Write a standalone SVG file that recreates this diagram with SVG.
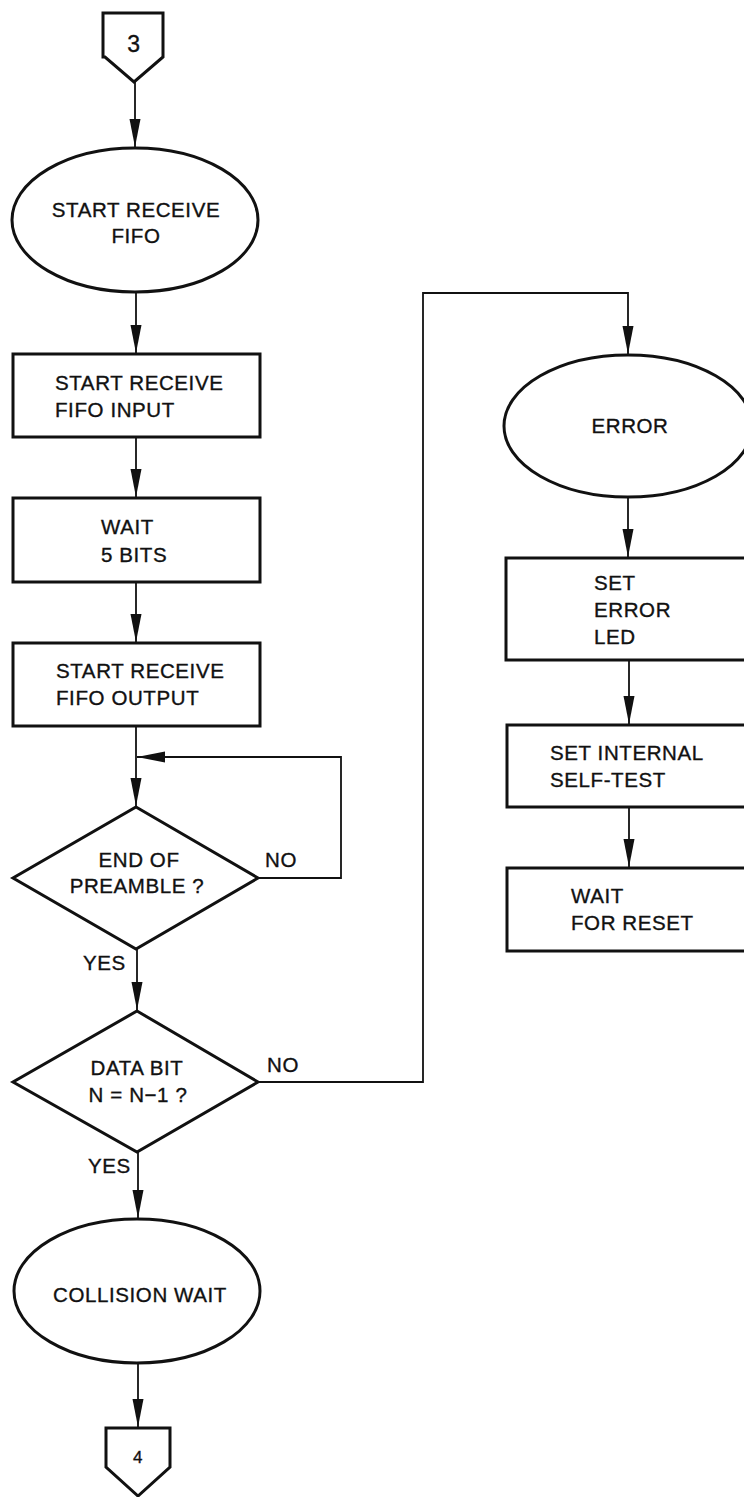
<svg xmlns="http://www.w3.org/2000/svg" width="744" height="1497" viewBox="0 0 744 1497">
<defs>
<style>
.shape{fill:#fff;stroke:#111;stroke-width:3;stroke-linejoin:miter}
.conn{fill:none;stroke:#111;stroke-width:1.8}
.t{font-family:"Liberation Sans",Arial,sans-serif;font-size:20.5px;letter-spacing:0.6px;fill:#111;stroke:#111;stroke-width:0.35}
.c{text-anchor:middle}
</style>
<marker id="ah" markerUnits="userSpaceOnUse" markerWidth="30" markerHeight="12" refX="28" refY="5.5" orient="auto">
<path d="M0,0 L28,5.5 L0,11 z" fill="#111"/>
</marker>
</defs>
<rect width="744" height="1497" fill="#fff"/>
<g id="connectors">
<line class="conn" x1="135" y1="82" x2="135" y2="147" marker-end="url(#ah)"/>
<line class="conn" x1="136" y1="292" x2="136" y2="353" marker-end="url(#ah)"/>
<line class="conn" x1="136" y1="437" x2="136" y2="497" marker-end="url(#ah)"/>
<line class="conn" x1="136" y1="582" x2="136" y2="642" marker-end="url(#ah)"/>
<line class="conn" x1="136" y1="726" x2="136" y2="806" marker-end="url(#ah)"/>
<polyline class="conn" points="258,878 341,878 341,757 137,757" marker-end="url(#ah)"/>
<line class="conn" x1="137" y1="949" x2="137" y2="1010" marker-end="url(#ah)"/>
<polyline class="conn" points="258,1082 423,1082 423,293 628,293 628,354" marker-end="url(#ah)"/>
<line class="conn" x1="628" y1="497" x2="628" y2="557" marker-end="url(#ah)"/>
<line class="conn" x1="629" y1="660" x2="629" y2="724" marker-end="url(#ah)"/>
<line class="conn" x1="629" y1="807" x2="629" y2="867" marker-end="url(#ah)"/>
<line class="conn" x1="138" y1="1152" x2="138" y2="1218" marker-end="url(#ah)"/>
<line class="conn" x1="138" y1="1363" x2="138" y2="1427" marker-end="url(#ah)"/>
<text class="t" x="265" y="867">NO</text>
<text class="t" x="83" y="970">YES</text>
<text class="t" x="267" y="1072">NO</text>
<text class="t" x="88" y="1173">YES</text>
</g>
<g id="n_conn3">
<polygon class="shape" points="103,13 163,13 163,57 134,82 105,57 103,57"/>
<text class="t c" x="134" y="52" style="font-size:23px">3</text>
</g>
<g id="n_start">
<ellipse class="shape" cx="135" cy="220" rx="123" ry="72"/>
<text class="t c" x="136" y="217">START RECEIVE</text>
<text class="t c" x="136" y="243">FIFO</text>
</g>
<g id="n_input">
<rect class="shape" x="13" y="354" width="247" height="83"/>
<text class="t" x="55" y="390">START RECEIVE</text>
<text class="t" x="55" y="417">FIFO INPUT</text>
</g>
<g id="n_wait5">
<rect class="shape" x="13" y="498" width="247" height="84"/>
<text class="t" x="101" y="534">WAIT</text>
<text class="t" x="101" y="562">5 BITS</text>
</g>
<g id="n_output">
<rect class="shape" x="13" y="643" width="247" height="83"/>
<text class="t" x="56" y="678">START RECEIVE</text>
<text class="t" x="56" y="705">FIFO OUTPUT</text>
</g>
<g id="n_preamble">
<polygon class="shape" points="136,807 258,878 136,949 13,878"/>
<text class="t c" x="139" y="867">END OF</text>
<text class="t c" x="137" y="893">PREAMBLE ?</text>
</g>
<g id="n_databit">
<polygon class="shape" points="137,1011 258,1082 137,1152 13,1082"/>
<text class="t c" x="137" y="1075">DATA BIT</text>
<text class="t c" x="138" y="1102">N = N−1 ?</text>
</g>
<g id="n_collision">
<ellipse class="shape" cx="137" cy="1291" rx="123" ry="72"/>
<text class="t c" x="140" y="1302">COLLISION WAIT</text>
</g>
<g id="n_conn4">
<polygon class="shape" points="106,1428 170,1428 170,1467 138,1496 106,1467"/>
<text class="t c" x="138" y="1463" style="font-size:17px">4</text>
</g>
<g id="n_error">
<ellipse class="shape" cx="628" cy="426" rx="124" ry="71"/>
<text class="t c" x="630" y="433">ERROR</text>
</g>
<g id="n_setled">
<rect class="shape" x="506" y="558" width="250" height="102"/>
<text class="t" x="594" y="590">SET</text>
<text class="t" x="594" y="617">ERROR</text>
<text class="t" x="594" y="644">LED</text>
</g>
<g id="n_selftest">
<rect class="shape" x="507" y="725" width="250" height="82"/>
<text class="t" x="550" y="760">SET INTERNAL</text>
<text class="t" x="550" y="787">SELF-TEST</text>
</g>
<g id="n_waitreset">
<rect class="shape" x="507" y="868" width="250" height="83"/>
<text class="t" x="571" y="903">WAIT</text>
<text class="t" x="571" y="930">FOR RESET</text>
</g>
</svg>
